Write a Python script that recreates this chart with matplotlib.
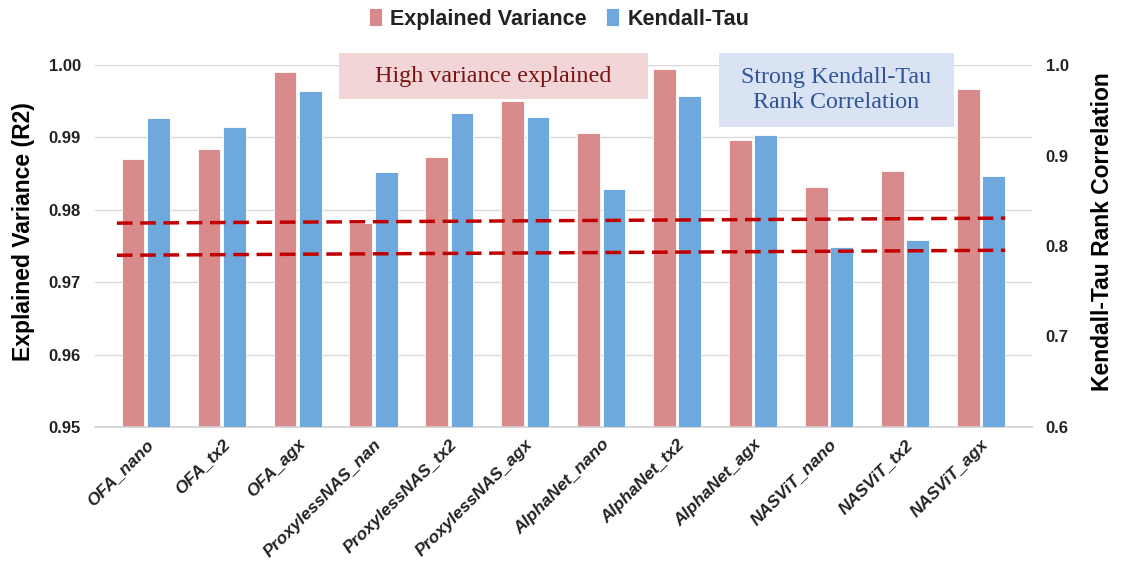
import matplotlib.pyplot as plt
from matplotlib.patches import Rectangle
import numpy as np

plt.rcParams['font.family'] = ['Liberation Sans', 'DejaVu Sans']

models = ['OFA_nano', 'OFA_tx2', 'OFA_agx', 'ProxylessNAS_nan', 'ProxylessNAS_tx2',
          'ProxylessNAS_agx', 'AlphaNet_nano', 'AlphaNet_tx2', 'AlphaNet_agx',
          'NASViT_nano', 'NASViT_tx2', 'NASViT_agx']
explained_var = [0.9870, 0.9884, 0.9991, 0.9782, 0.9873, 0.9951,
                 0.9906, 0.9995, 0.9897, 0.9831, 0.9854, 0.9967]
kendall_tau = [0.9415, 0.9319, 0.9709, 0.8817, 0.9470, 0.9426,
               0.8630, 0.9654, 0.9222, 0.7991, 0.8069, 0.8777]

# dashed reference lines (left axis units), start / end
ref_x = [-0.38, 11.32]
ref_hi = [0.97816, 0.97885]
ref_lo = [0.97372, 0.97441]

red = '#D98B8B'
blue = '#6FA8DC'
txt = '#222222'

fig = plt.figure(figsize=(11.3, 5.61), dpi=100)
ax = fig.add_axes([0.084, 0.239, 0.829, 0.645])
ax2 = ax.twinx()

x = np.arange(len(models))
w = 0.30
off = 0.167

b1 = ax.bar(x - off, explained_var, w, color=red, edgecolor='white', linewidth=0.6,
            label='Explained Variance', zorder=2)
b2 = ax2.bar(x + off, kendall_tau, w, color=blue, edgecolor='white', linewidth=0.6,
             label='Kendall-Tau', zorder=2)

ax2.plot(ref_x, ref_hi, '--', color='#C00000', lw=2.5, dashes=(4.5, 2.2), transform=ax.transData, zorder=3)
ax2.plot(ref_x, ref_lo, '--', color='#C00000', lw=2.5, dashes=(4.5, 2.2), transform=ax.transData, zorder=3)

ax.set_ylim(0.95, 1.0)
ax.set_yticks(np.arange(0.95, 1.0001, 0.01))
ax.set_yticklabels(['%.2f' % v for v in np.arange(0.95, 1.0001, 0.01)])
ax2.set_ylim(0.6, 1.0)
ax2.set_yticks(np.arange(0.6, 1.0001, 0.1))
ax2.set_yticklabels(['%.1f' % v for v in np.arange(0.6, 1.0001, 0.1)])
ax.set_xlim(-0.67, 11.67)

ax.set_axisbelow(True)
ax.yaxis.grid(True, color='#D9D9D9', lw=1.0)
for a in (ax, ax2):
    for s in a.spines.values():
        s.set_visible(False)
ax.spines['bottom'].set_visible(True)
ax.spines['bottom'].set_color('#D0D0D0')
ax.spines['bottom'].set_linewidth(1.2)

ax.tick_params(axis='y', length=0, pad=10, labelsize=12, labelcolor=txt)
ax2.tick_params(axis='y', length=0, pad=10, labelsize=12, labelcolor=txt)
for lab in ax.get_yticklabels() + ax2.get_yticklabels():
    lab.set_fontweight('bold')

ax.set_xticks(x)
ax.set_xticklabels(models, rotation=45, ha='right', rotation_mode='anchor',
                   fontsize=12.5, fontweight='bold', fontstyle='italic', color=txt)
ax.tick_params(axis='x', length=0, pad=7)

ax.set_ylabel('Explained Variance (R2)', fontsize=16.5, fontweight='bold', color='black', labelpad=10)
ax2.set_ylabel('Kendall-Tau Rank Correlation', fontsize=16.5, fontweight='bold', color='black', labelpad=16)
ax.yaxis.label.set_y(0.54)
ax2.yaxis.label.set_y(0.54)

fig.legend([b1, b2], ['Explained Variance', 'Kendall-Tau'], loc='center', bbox_to_anchor=(0.495, 0.966),
           ncol=2, frameon=False, handlelength=0.6, handleheight=0.9, handletextpad=0.4,
           columnspacing=0.9, prop={'weight': 'bold', 'size': 15.5})
for t in fig.legends[0].get_texts():
    t.set_color(txt)

# annotation boxes
fig.add_artist(Rectangle((0.300, 0.8235), 0.2735, 0.082, transform=fig.transFigure,
                         facecolor='#F2D5D7', edgecolor='none', zorder=5))
fig.text(0.4367, 0.864, 'High variance explained', ha='center', va='center', fontsize=17.4,
         family=['Liberation Serif'], color='#7A1414', zorder=6)
fig.add_artist(Rectangle((0.6363, 0.7736), 0.208, 0.1319, transform=fig.transFigure,
                         facecolor='#DAE3F3', edgecolor='none', zorder=5))
fig.text(0.7403, 0.8396, 'Strong Kendall-Tau\nRank Correlation', ha='center', va='center', fontsize=17.3,
         family=['Liberation Serif'], color='#2F5597', linespacing=1.3, zorder=6)

fig.savefig('out.png', dpi=100)
